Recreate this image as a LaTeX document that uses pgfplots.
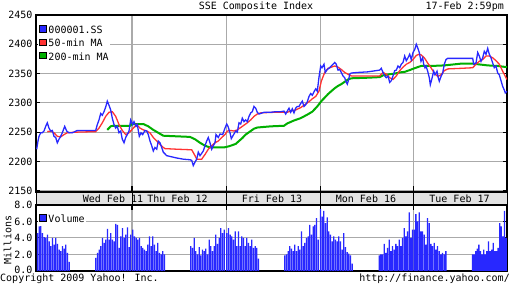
\documentclass[border=0pt]{standalone}
\usepackage{pgfplots}
\pgfplotsset{compat=1.18}
\usepackage{fontspec}
\setmainfont{DejaVu Sans Mono}
\setmonofont{DejaVu Sans Mono}
\definecolor{cblue}{RGB}{40,40,255}
\definecolor{cred}{RGB}{255,50,50}
\definecolor{cgreen}{RGB}{0,175,0}
\definecolor{gridgray}{RGB}{170,170,170}
\definecolor{bandgray}{RGB}{226,226,226}
\begin{document}
\fontsize{10}{12}\selectfont
\begin{tikzpicture}[x=1pt,y=1pt]
\path[use as bounding box] (0,0) rectangle (512,288);
\fill[white] (0,0) rectangle (512,288);
\fill[bandgray] (36,83) rectangle (507,96);
\draw[black,line width=1pt] (36,83) rectangle (507,96);
\foreach \xx in {132,226,320,413} {\draw[black,line width=1pt] (\xx,83) -- (\xx,96);}

\begin{axis}[name=main, at={(36pt,96pt)}, anchor=south west, scale only axis,
  width=471pt, height=177pt, xmin=0, xmax=471, ymin=2148, ymax=2450,
  axis line style={line width=1.2pt},
  xmajorgrids, ymajorgrids, grid style={color=gridgray, line width=1pt},
  tick align=inside,
  xtick={96,190,284,377}, xticklabels={{},{},{},{}}, xtick pos=left,
  xtick style={black, line width=1pt, /pgfplots/major tick length=6pt},
  ytick={2150,2200,2250,2300,2350,2400,2450},
  yticklabels={2150,2200,2250,2300,2350,2400,\raisebox{-6pt}{2450}},
  ytick style={black, line width=1pt, /pgfplots/major tick length=4pt},
  yticklabel style={font=\fontsize{10}{12}\selectfont},
  legend style={at={(0,1)}, anchor=north west, xshift=2pt, yshift=-9pt, draw=none, fill=white,
    inner sep=1pt, row sep=3pt, font=\fontsize{10}{12}\selectfont,
    nodes={inner sep=0pt, text height=8pt, text depth=2pt},
    /tikz/every odd column/.append style={column sep=2pt}},
  legend cell align=left,
]
\addlegendimage{legend image code/.code={\draw[black,fill=cblue,line width=0.8pt] (1pt,-1.5pt) rectangle (7.5pt,5pt);}}
\addlegendentry{000001.SS}
\addlegendimage{legend image code/.code={\draw[black,fill=cred,line width=0.8pt] (1pt,-1.5pt) rectangle (7.5pt,5pt);}}
\addlegendentry{50-min MA}
\addlegendimage{legend image code/.code={\draw[black,fill=cgreen,line width=0.8pt] (1pt,-1.5pt) rectangle (7.5pt,5pt);}}
\addlegendentry{200-min MA}
\addplot[forget plot, cgreen, line width=2pt] coordinates {(71.3,2254) (74.7,2260) (77,2261) (94,2261) (96,2264) (107.3,2264) (112.3,2260) (117.3,2254) (122.3,2249) (127.3,2244) (140.7,2243) (154,2242) (159,2238) (164,2232) (169,2227) (174,2224) (188,2224) (193,2226) (199.7,2230) (203,2235) (206.3,2240) (209.7,2246) (213,2250) (218,2256) (221.3,2258) (234.7,2260) (248,2261) (251.3,2265) (258,2270) (264.7,2274) (271.3,2280) (276.3,2285) (281.3,2294) (285.3,2303) (288.7,2309) (292,2315) (295.3,2320) (298.7,2325) (302,2329) (305.3,2332) (308.7,2336) (312,2340) (315.3,2342) (332,2343) (343.7,2344) (347,2347) (353.7,2349) (358.7,2350) (363.7,2352) (368.7,2353) (373.7,2356) (378.3,2359) (385,2363) (395,2363) (408.3,2364) (425,2367) (436.7,2367) (441.7,2366) (451.7,2364) (461.7,2363) (471,2361)};
\addplot[forget plot, cred, line width=1.3pt] coordinates {(11.3,2251) (14.7,2252) (18,2249) (21.3,2243) (24.7,2242) (28,2246) (31.3,2249) (38,2250) (59.7,2251) (63,2257) (66.3,2266) (69.7,2277) (73,2284) (76.3,2285) (79.7,2277) (83,2263) (86.3,2253) (89.7,2246) (93,2249) (97.3,2257) (100.7,2263) (104,2257) (107.3,2254) (110.7,2252) (114,2249) (117.3,2241) (120.7,2235) (124,2229) (127.3,2224) (129,2222) (140.7,2221) (155.7,2220) (159,2210) (160.7,2204) (165.7,2204) (169,2212) (172.3,2221) (175.7,2227) (179,2232) (182.3,2235) (185.7,2241) (189,2246) (191.3,2252) (194.7,2253) (198,2252) (201.3,2254) (204.7,2258) (208,2262) (211.3,2266) (214.7,2271) (218,2277) (221.3,2281) (224.7,2283) (238,2284) (248,2284) (251.3,2284) (254.7,2286) (259.7,2288) (264.7,2292) (269.7,2298) (273,2302) (276.3,2307) (279.7,2311) (283,2320) (285.3,2337) (288.7,2352) (292,2359) (295.3,2361) (298.7,2363) (302,2361) (305.3,2357) (308.7,2352) (312,2349) (315.3,2346) (332,2346) (343.7,2346) (347,2352) (350.3,2349) (353.7,2343) (357,2340) (360.3,2346) (363.7,2355) (367,2361) (370.3,2366) (373.7,2369) (377,2374) (380.3,2381) (383,2383) (385,2382) (388.3,2377) (391.7,2368) (395,2360) (398.3,2351) (401.7,2345) (405,2348) (408.3,2355) (411.7,2358) (425,2359) (436.7,2360) (440,2366) (443.3,2371) (446.7,2374) (450,2380) (453.3,2380) (456.7,2377) (460,2372) (463.3,2366) (466.7,2354) (470,2343) (471,2340)};
\addplot[forget plot, cblue, line width=1.3pt] coordinates {(0.7,2221) (2,2235) (3,2243) (4.7,2249) (6.3,2249) (8,2252) (9.7,2260) (11.3,2266) (13,2257) (14.7,2252) (16.3,2253) (18,2243) (19.7,2241) (21.3,2232) (23,2238) (24.7,2243) (26.3,2249) (28.7,2260) (30.7,2252) (33,2249) (36.3,2249) (41.3,2253) (59.7,2253) (61.3,2263) (63,2271) (64.7,2282) (66.3,2279) (68,2285) (69.7,2293) (71.3,2303) (73,2296) (74.7,2288) (76.3,2274) (78,2263) (79.7,2257) (81.3,2260) (83,2249) (84.7,2252) (86.3,2238) (88,2232) (89.7,2241) (91.3,2246) (93,2252) (94.7,2271)
(96.7,2263) (98,2268) (100,2260) (101.3,2263) (103.3,2243) (105,2249) (106.7,2246) (109,2253) (110.7,2252) (112.3,2246) (114,2235) (115.7,2227) (117.3,2218) (119,2224) (120.7,2221) (122.3,2235) (124,2232) (125.7,2224) (127.3,2216) (130.7,2210) (135.7,2208) (140.7,2206) (147.3,2204) (154,2203) (155.7,2202) (157.3,2193) (159,2199) (160.7,2204) (162.3,2216) (164,2210) (165.7,2214) (167.3,2218) (169,2227) (170.7,2235) (172.3,2241) (174,2232) (175.7,2221) (177.3,2227) (179,2232) (180,2246) (182.3,2241) (184,2247) (186.7,2246) (189,2257)
(190.7,2264) (192,2260) (194,2249) (195.3,2239) (197.3,2245) (199.7,2252) (201.3,2250) (203,2266) (204.7,2264) (206.3,2274) (208,2268) (209.7,2271) (211.3,2268) (213,2277) (214.7,2283) (216.3,2285) (218,2294) (219.7,2291) (221.3,2284) (223,2281) (228,2284) (234.7,2284) (239.7,2285) (244.7,2285) (248,2286) (249.7,2281) (251.3,2286) (253,2291) (254.7,2284) (256.3,2290) (258,2283) (259.7,2291) (261.3,2294) (263,2294) (264.7,2299) (266.3,2303) (268,2294) (269.7,2297) (271.3,2302) (273,2311) (274.7,2316) (276.3,2313) (278,2319) (279.7,2324) (281.3,2320) (283,2344)
(284.7,2363) (286,2360) (288,2366) (289.3,2352) (291.3,2357) (293.7,2360) (295.3,2363) (297,2366) (298.7,2369) (300.3,2366) (302,2356) (303.7,2357) (305.3,2352) (307,2346) (308.7,2343) (310.3,2335) (311.3,2332) (312.7,2340) (313.7,2349) (315.3,2351) (322,2352) (332,2353) (343.7,2356) (345.3,2359) (347,2352) (348.7,2346) (350.3,2343) (352,2346) (353.7,2335) (355.3,2338) (357,2346) (358.7,2355) (360.3,2356) (362,2363) (363.7,2360) (365.3,2366) (367,2369) (368.7,2380) (370.3,2372) (372,2377) (373.7,2383) (375.3,2374) (377,2386) (378.7,2391) (380.3,2400)
(381.7,2394) (383.3,2386) (385,2371) (386.7,2377) (387.7,2366) (389,2360) (390,2363) (391.7,2354) (393.3,2343) (394.3,2331) (395.7,2340) (397.7,2354) (399,2348) (401,2354) (402.3,2343) (403.3,2337) (405,2345) (406.7,2351) (408.3,2366) (410,2374) (411.7,2376) (436.7,2376) (437.7,2366) (440,2368) (441.7,2386) (443.3,2380) (445,2371) (446.7,2377) (448.3,2388) (450,2383) (451.7,2393) (453.3,2383) (455,2377) (456.7,2368) (458.3,2360) (460,2363) (461.7,2351) (463.3,2348) (465,2338) (466.7,2328) (468.3,2322) (469.3,2317) (471,2320)};
\end{axis}

\begin{axis}[name=vol, at={(36pt,17pt)}, anchor=south west, scale only axis,
  width=471pt, height=66pt, xmin=0, xmax=471, ymin=0, ymax=8,
  axis line style={line width=1.2pt},
  xmajorgrids, ymajorgrids, grid style={color=gridgray, line width=1pt},
  tick align=inside,
  xtick={96,190,284,377}, xticklabels={{},{},{},{}}, xtick pos=right,
  xtick style={black, line width=1pt, /pgfplots/major tick length=5pt},
  ytick={0,2,4,6,8},
  yticklabels={\raisebox{2.5pt}{0.0},2.0,4.0,6.0,\raisebox{-4.5pt}{8.0}},
  ytick style={black, line width=1pt, /pgfplots/major tick length=4pt},
  yticklabel style={font=\fontsize{10}{12}\selectfont},
  legend style={at={(0,1)}, anchor=north west, xshift=2pt, yshift=-8pt, draw=none, fill=white,
    inner sep=1pt, font=\fontsize{10}{12}\selectfont,
    nodes={inner sep=0pt, text height=8pt, text depth=2pt},
    /tikz/every odd column/.append style={column sep=2pt}},
  legend cell align=left,
]
\addlegendimage{legend image code/.code={\draw[black,fill=cblue,line width=0.8pt] (1pt,-1.5pt) rectangle (7.5pt,5pt);}}
\addlegendentry{Volume}
\addplot[forget plot, ybar, bar width=1.35, fill=cblue, draw=none] coordinates {
(1.5,4.6) (3.2,5.4) (4.8,5.8) (6.5,4.6) (8.2,4.1) (9.8,4.0) (11.5,4.4) (13.2,3.6) (14.8,3.0) (16.5,4.0) (18.2,3.2) (19.8,4.0) (21.5,3.3) (23.2,2.6) (24.8,2.4) (26.5,3.0) (28.2,2.7) (29.8,3.2) (31.5,2.2) (33.2,1.1)
(59.8,1.6) (61.5,2.2) (63.2,2.6) (64.8,3.0) (66.5,4.0) (68.2,3.4) (69.8,3.8) (71.5,5.1) (73.2,3.8) (74.8,4.6) (76.5,3.8) (78.2,3.6) (79.8,5.7) (81.5,5.6) (83.2,2.8) (84.8,4.2) (86.5,5.2) (88.2,4.0) (89.8,4.4) (91.5,5.3) (93.2,2.9) (94.8,4.4)
(96.8,5.0) (98.5,4.2) (100.2,4.0) (101.8,3.8) (103.5,4.0) (105.2,3.0) (106.8,2.8) (108.5,2.6) (110.2,2.4) (111.8,3.2) (113.5,4.2) (115.2,3.0) (116.8,4.2) (118.5,3.2) (120.2,2.4) (121.8,3.4) (123.5,2.2) (125.2,2.0) (126.8,2.4) (128.5,2.0)
(154.8,3.0) (156.5,2.8) (158.2,4.0) (159.8,2.4) (161.5,2.0) (163.2,2.9) (164.8,1.9) (166.5,2.6) (168.2,2.4) (169.8,2.7) (171.5,2.0) (173.2,3.8) (174.8,3.0) (176.5,2.4) (178.2,3.0) (179.8,4.4) (181.5,3.3) (183.2,4.0) (184.8,5.2) (186.5,4.6) (188.2,5.0)
(190.8,4.6) (192.5,5.2) (194.2,4.4) (195.8,4.2) (197.5,3.8) (199.2,4.8) (200.8,3.0) (202.5,4.8) (204.2,3.0) (205.8,4.2) (207.5,4.0) (209.2,3.0) (210.8,4.0) (212.5,3.4) (214.2,3.0) (215.8,3.8) (217.5,2.8) (219.2,3.0) (220.8,2.8) (222.5,1.5)
(248.8,1.9) (250.5,2.0) (252.2,2.4) (253.8,3.0) (255.5,2.7) (257.2,2.4) (258.8,3.2) (260.5,2.4) (262.2,3.0) (263.8,2.6) (265.5,4.8) (267.2,3.0) (268.8,3.4) (270.5,4.0) (272.2,4.2) (273.8,5.6) (275.5,4.4) (277.2,5.4) (278.8,5.6) (280.5,6.4) (282.2,3.8)
(284.5,7.5) (286.2,6.6) (287.8,7.3) (289.5,5.8) (291.2,6.5) (292.8,4.8) (294.5,4.4) (296.2,3.6) (297.8,4.2) (299.5,3.8) (301.2,3.6) (302.8,4.2) (304.5,3.6) (306.2,2.6) (307.8,4.6) (309.5,2.9) (311.2,2.3) (312.8,2.1) (314.5,1.9) (316.2,0.9)
(343.2,1.9) (344.9,2.0) (346.5,2.0) (348.2,3.3) (349.9,2.2) (351.5,2.8) (353.2,3.8) (354.9,2.4) (356.5,3.0) (358.2,2.6) (359.9,3.3) (361.5,3.0) (363.2,3.8) (364.9,3.0) (366.5,4.0) (368.2,5.2) (369.9,4.2) (371.5,4.8) (373.2,7.1) (374.9,4.0) (376.5,5.0)
(378.2,5.0) (379.9,6.9) (381.5,6.0) (383.2,7.1) (384.9,4.8) (386.5,4.8) (388.2,4.4) (389.9,3.2) (391.5,6.4) (393.2,5.8) (394.9,3.3) (396.5,3.0) (398.2,3.4) (399.9,2.6) (401.5,3.0) (403.2,2.4) (404.9,2.0) (406.5,2.2) (408.2,2.0) (409.9,2.4)
(436.5,2.0) (438.1,2.0) (439.7,2.4) (441.3,2.7) (442.9,3.2) (444.5,2.4) (446.1,2.0) (447.7,2.6) (449.3,2.0) (450.9,2.4) (452.5,3.6) (454.1,2.4) (455.7,2.6) (457.3,3.4) (458.9,2.4) (460.5,2.4) (462.1,2.8) (463.7,5.8) (465.3,5.4) (466.9,4.2) (468.5,7.3) (470.1,4.0)};
\end{axis}

\node[anchor=base, inner sep=0] at (256,278) {SSE Composite Index};
\node[anchor=base east, inner sep=0] at (504,278) {17-Feb 2:59pm};
\node[anchor=base, inner sep=0] at (113,85.5) {Wed Feb 11};
\node[anchor=base, inner sep=0] at (177.5,85.5) {Thu Feb 12};
\node[anchor=base, inner sep=0] at (272,85.5) {Fri Feb 13};
\node[anchor=base, inner sep=0] at (366,85.5) {Mon Feb 16};
\node[anchor=base, inner sep=0] at (459.5,85.5) {Tue Feb 17};
\node[rotate=90, inner sep=0] at (7.5,48) {Millions};
\node[anchor=base west, inner sep=0] at (0,6) {Copyright 2009 Yahoo! Inc.};
\node[anchor=base east, inner sep=0] at (510,6) {http://finance.yahoo.com/};
\end{tikzpicture}
\end{document}
